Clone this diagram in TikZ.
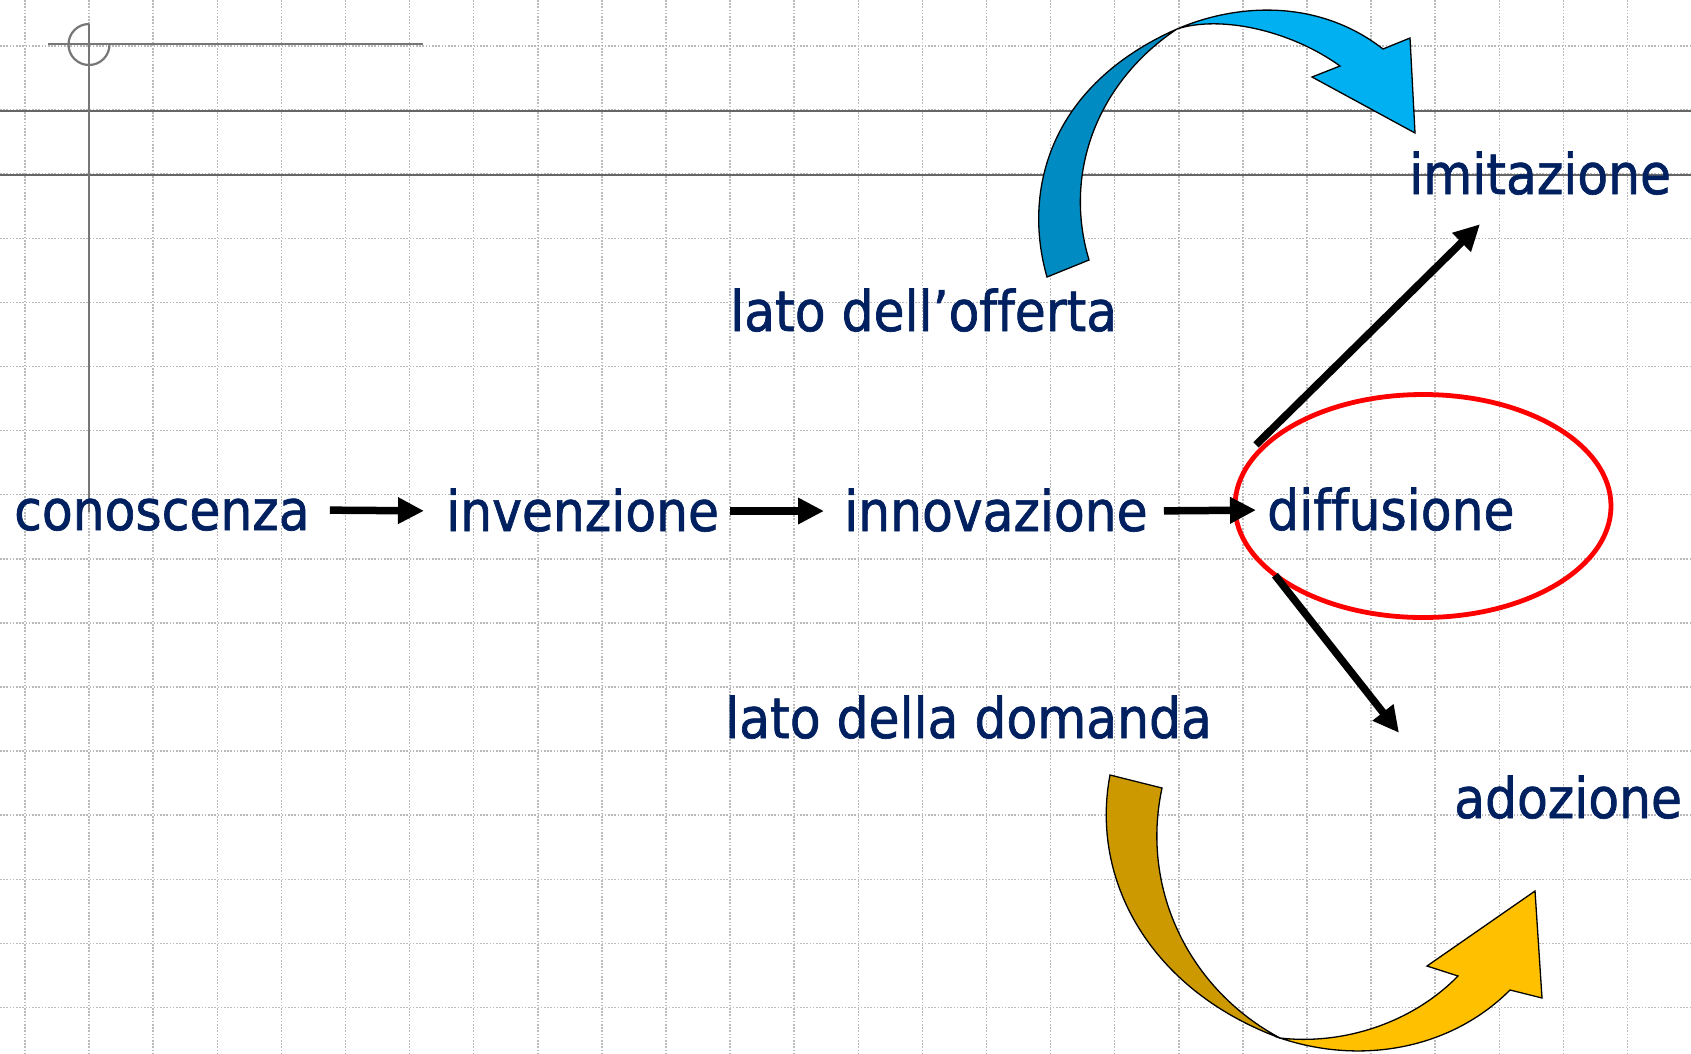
\documentclass[tikz,border=0pt]{standalone}
\usepackage{fontspec}
\setmainfont[FakeBold=1.2,Ligatures={NoCommon}]{DejaVu Sans Condensed}
\usetikzlibrary{arrows.meta,shapes.geometric,calc}
\definecolor{navy}{HTML}{002060}
\definecolor{skyA}{HTML}{00B0F0}
\definecolor{skyB}{HTML}{008CC2}
\definecolor{goldA}{HTML}{FFC000}
\definecolor{goldB}{HTML}{CC9A00}
\definecolor{crossgray}{HTML}{777777}
\begin{document}
\begin{tikzpicture}[x=1pt,y=-1pt,
  lbl/.style={anchor=base west, inner sep=0pt, text height=40pt, text depth=0pt,
    text=navy, font=\fontsize{56}{67}\selectfont},
  conn/.style={line width=7.5pt, -{Triangle[length=26pt,width=25pt]}},
  gridl/.style={line width=1.5pt, black!27, dash pattern=on 1.6pt off 1.6pt},
  guide/.style={line width=1.2pt, black!60},
  crossl/.style={crossgray, line width=2.2pt},
  band/.style={draw=black, line width=1.3pt, line join=miter}]
\useasboundingbox (0,0) rectangle (1691,1053);
\fill[white] (0,0) rectangle (1691,1053);
% grid
\foreach \i in {0,...,25} \draw[gridl] ({25+64.1*\i},0) -- ({25+64.1*\i},1053);
\foreach \j in {0,...,15} \draw[gridl] (0,{46+64.1*\j}) -- (1691,{46+64.1*\j});
\draw[guide] (0,111) -- (1691,111);
\draw[guide] (0,175) -- (1691,175);
% cross mark
\draw[crossl] (89,24) -- (89,512);
\draw[crossl] (48,44) -- (423,44);
\draw[crossl] (89,24) arc[start angle=270, end angle=0, radius=20.5];
% labels
\node[lbl] (conoscenza) at (14,530) {conoscenza};
\node[lbl] (invenzione) at (446,531) {invenzione};
\node[lbl] (innovazione) at (844,531) {innovazione};
\node[lbl] (diffusione) at (1267,530) {diffusione};
\node[lbl] (imitazione) at (1409,194) {imitazione};
\node[lbl] (offerta) at (730,331) {lato dell’offerta};
\node[lbl] (domanda) at (725,738) {lato della domanda};
\node[lbl] (adozione) at (1454,818) {adozione};
% red ellipse
\node[draw=red, line width=4.8pt, ellipse, minimum width=376pt, minimum height=223pt] (ring) at (1423,506) {};
% connectors
\draw[conn, shorten <=20pt, shorten >=22pt] (conoscenza.east) -- (invenzione.west);
\draw[conn, shorten <=11pt, shorten >=20pt] (invenzione.east) -- (innovazione.west);
\draw[conn, shorten <=16pt, shorten >=11pt] (innovazione.east) -- (diffusione.west);
\draw[conn] ($(diffusione.north west)+(-11,-45)$) -- ($(imitazione.south west)+(71,30)$);
\draw[conn] ($(diffusione.south west)+(8,45)$) -- ($(adozione.north west)+(-55,-45)$);
% blue curved arrow (supply side)
\filldraw[band, fill=skyB] (1047,277) .. controls (1022,190) and (1050,85) .. (1177,29)
  .. controls (1100,80) and (1062,170) .. (1089,260) -- cycle;
\filldraw[band, fill=skyA] (1177,29) .. controls (1240,2) and (1320,0) .. (1383,49)
  -- (1410,38) -- (1415,133) -- (1312,77) -- (1340,66)
  .. controls (1290,30) and (1220,15) .. (1177,29) -- cycle;
% gold curved arrow (demand side)
\filldraw[band, fill=goldB] (1110,775) .. controls (1090,880) and (1150,990) .. (1280,1038)
  .. controls (1190,990) and (1140,890) .. (1162,788) -- cycle;
\filldraw[band, fill=goldA] (1280,1038) .. controls (1360,1065) and (1450,1050) .. (1510,990)
  -- (1542,998) -- (1535,891) -- (1427,966) -- (1458,976)
  .. controls (1410,1025) and (1340,1045) .. (1280,1038) -- cycle;
\end{tikzpicture}
\end{document}
